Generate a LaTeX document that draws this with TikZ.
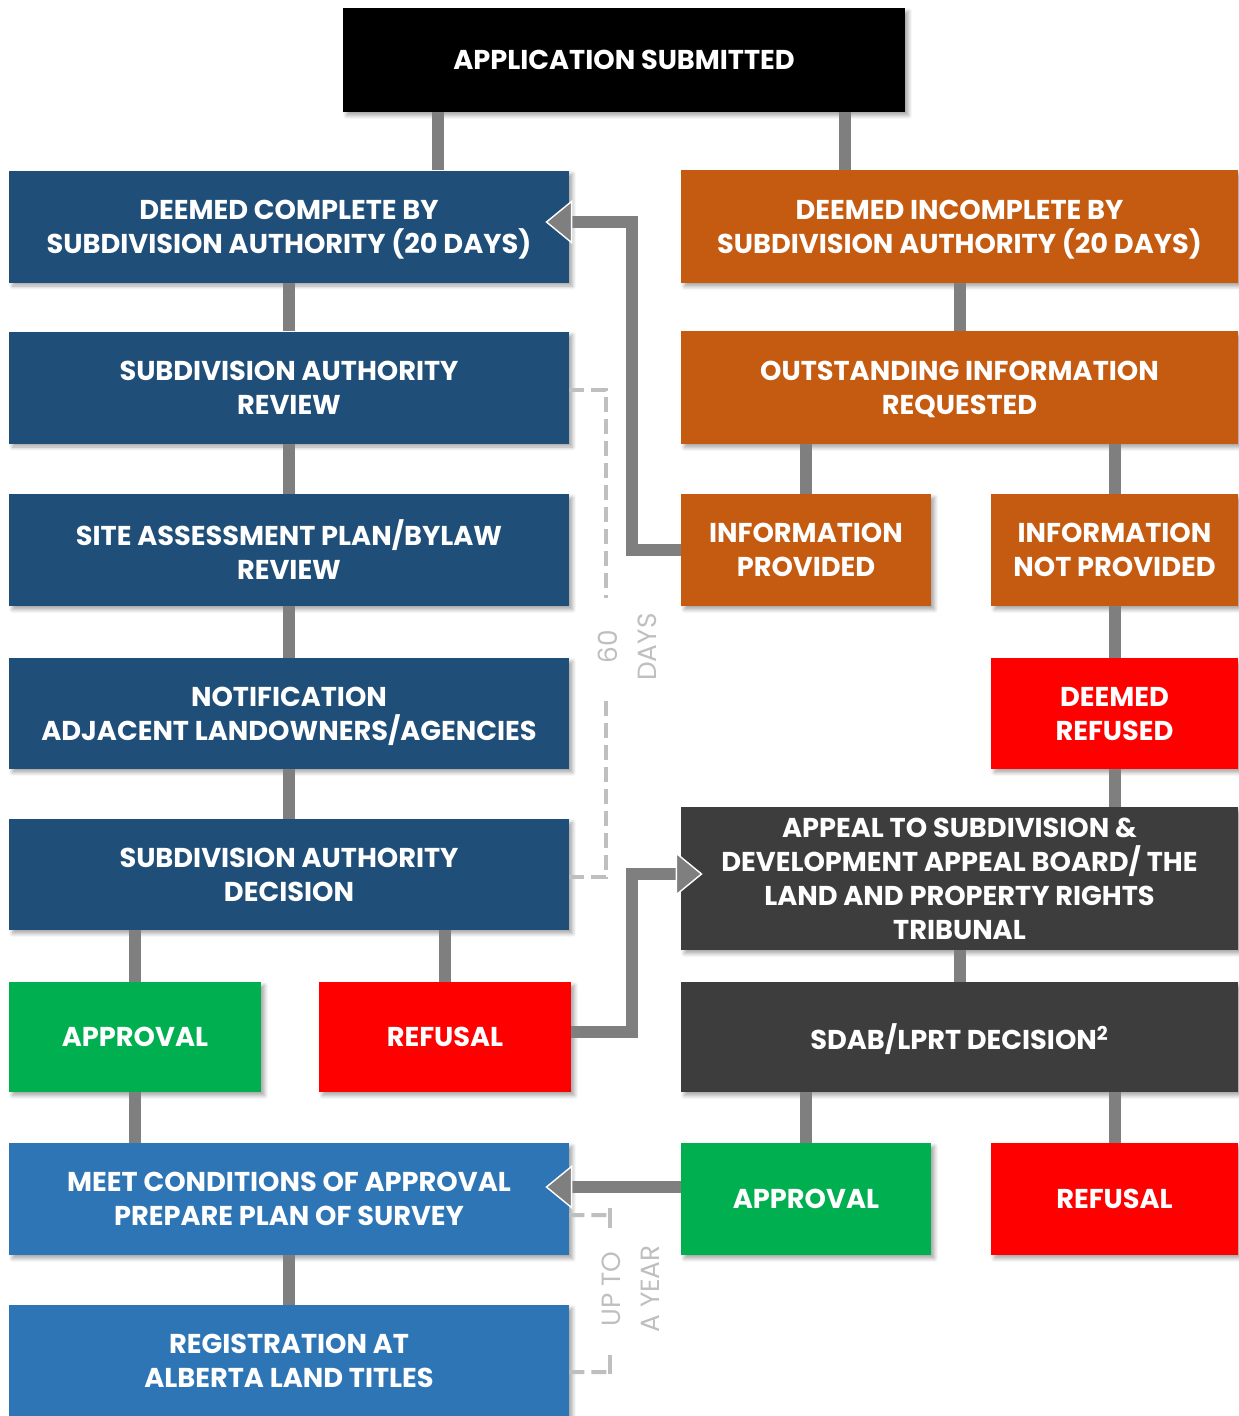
\documentclass[tikz,border=0pt]{standalone}
\usepackage{fontspec}
\setmainfont{Poppins}
\usetikzlibrary{arrows.meta,shadows.blur}
\definecolor{navy}{HTML}{1F4E79}
\definecolor{skyblue}{HTML}{2E75B6}
\definecolor{rust}{HTML}{C55A11}
\definecolor{leaf}{HTML}{00B050}
\definecolor{alarm}{HTML}{FF0000}
\definecolor{slate}{HTML}{3D3D3D}
\definecolor{linkgray}{HTML}{7F7F7F}
\definecolor{dashgray}{HTML}{BFBFBF}
\begin{document}
\begin{tikzpicture}[x=0.2mm,y=-0.2mm,
    box/.style={text=white,font=\bfseries\fontsize{15.5}{19.3}\selectfont,align=center,inner sep=0pt,text depth=0pt,
      blur shadow={shadow xshift=0.7mm,shadow yshift=-0.7mm,shadow opacity=35,shadow blur steps=6}},
    wide/.style={box,minimum width=112mm,minimum height=22.4mm},
    narrow/.style={box,minimum width=50mm,minimum height=22.4mm},
    link/.style={draw=linkgray,line width=2.4mm},
    tip/.style={-{Triangle[length=5.4mm,width=8.8mm,fill=linkgray,color=white,line width=0.8pt]}},
    bracket/.style={draw=dashgray,line width=0.8mm,dash pattern=on 3mm off 1.4mm},
    bracketend/.style={draw=dashgray,line width=0.8mm},
    note/.style={text=dashgray,font=\fontsize{15}{7.8mm}\selectfont,align=center,rotate=90}]
  \useasboundingbox (0,0) rectangle (1238,1416);
  \node[box,fill=black,minimum width=112.4mm,minimum height=20.8mm] (top) at (624,60) {APPLICATION SUBMITTED};
  \node[wide,fill=navy] (L1) at (289,226.5) {DEEMED COMPLETE BY\\SUBDIVISION AUTHORITY (20 DAYS)};
  \node[wide,fill=navy] (L2) at (289,387.5) {SUBDIVISION AUTHORITY\\REVIEW};
  \node[wide,fill=navy] (L3) at (289,550) {SITE ASSESSMENT PLAN/BYLAW\\REVIEW};
  \node[wide,fill=navy,minimum height=22.2mm] (L4) at (289,713.5) {NOTIFICATION\\ADJACENT LANDOWNERS/AGENCIES};
  \node[wide,fill=navy,minimum height=22.2mm] (L5) at (289,874.5) {SUBDIVISION AUTHORITY\\DECISION};
  \node[narrow,fill=leaf,minimum width=50.4mm,minimum height=22mm] (appL) at (135,1037) {APPROVAL};
  \node[narrow,fill=alarm,minimum width=50.4mm,minimum height=22mm] (refL) at (445,1037) {REFUSAL};
  \node[wide,fill=skyblue] (meet) at (289,1199) {MEET CONDITIONS OF APPROVAL\\PREPARE PLAN OF SURVEY};
  \node[wide,fill=skyblue] (reg) at (289,1361) {REGISTRATION AT\\ALBERTA LAND TITLES};
  \node[wide,fill=rust,minimum width=111.4mm,minimum height=22.6mm] (R1) at (959.5,226.5) {DEEMED INCOMPLETE BY\\SUBDIVISION AUTHORITY (20 DAYS)};
  \node[wide,fill=rust,minimum width=111.4mm,minimum height=22.6mm] (R2) at (959.5,387.5) {OUTSTANDING INFORMATION\\REQUESTED};
  \node[narrow,fill=rust] (infoP) at (806,550) {INFORMATION\\PROVIDED};
  \node[narrow,fill=rust,minimum width=49.4mm] (infoN) at (1114.5,550) {INFORMATION\\NOT PROVIDED};
  \node[narrow,fill=alarm,minimum width=49.4mm,minimum height=22.2mm] (deemedR) at (1114.5,713.5) {DEEMED\\REFUSED};
  \node[wide,fill=slate,minimum width=111.4mm,minimum height=28.6mm] (appeal) at (959.5,878.5) {APPEAL TO SUBDIVISION \&\\DEVELOPMENT APPEAL BOARD/ THE\\LAND AND PROPERTY RIGHTS\\TRIBUNAL};
  \node[wide,fill=slate,minimum width=111.4mm,minimum height=22mm] (sdab) at (959.5,1037) {SDAB/LPRT DECISION\textsuperscript{2}};
  \node[narrow,fill=leaf] (appR) at (806,1199) {APPROVAL};
  \node[narrow,fill=alarm,minimum width=49.4mm] (refR) at (1114.5,1199) {REFUSAL};
  \node[note] (days) at (627,647) {60\\DAYS};
  \node[note] (year) at (631,1289) {UP TO\\A YEAR};
  \coordinate (c1) at (438,0);
  \coordinate (c2) at (845,0);
  \coordinate (e1) at (632,0);
  \coordinate (d1) at (606,598);
  \coordinate (d2) at (606,698);
  \coordinate (y1) at (610,1215);
  \coordinate (y2) at (610,1372);
  \begin{scope}[link]
    \draw (top.south -| c1) to (L1.north -| c1);
    \draw (top.south -| c2) to (R1.north -| c2);
    \draw (L1.south) to (L2.north);
    \draw (L2.south) to (L3.north);
    \draw (L3.south) to (L4.north);
    \draw (L4.south) to (L5.north);
    \draw (L5.south -| appL.north) to (appL.north);
    \draw (L5.south -| refL.north) to (refL.north);
    \draw (appL.south) to (meet.north -| appL.south);
    \draw (meet.south) to (reg.north);
    \draw (R1.south) to (R2.north);
    \draw (R2.south -| infoP.north) to (infoP.north);
    \draw (R2.south -| infoN.north) to (infoN.north);
    \draw (infoN.south) to (deemedR.north);
    \draw (deemedR.south) to (appeal.north -| deemedR.south);
    \draw (appeal.south) to (sdab.north);
    \draw (sdab.south -| appR.north) to (appR.north);
    \draw (sdab.south -| refR.north) to (refR.north);
    \draw[tip] (infoP.west) -- (infoP.west -| e1) |- ([xshift=-4.8mm,yshift=0.9mm]L1.east);
    \draw[tip] ([yshift=1mm]refL.east) -- ([yshift=1mm]refL.east -| e1) |- ([xshift=4.4mm,yshift=0.9mm]appeal.west);
    \draw[tip] ([yshift=2.4mm]appR.west) -- ([xshift=-4.8mm,yshift=2.4mm]meet.east);
  \end{scope}
  \draw[bracket] ([yshift=-0.5mm]L2.east) -| (d1);
  \draw[bracket] ([yshift=-0.5mm]L5.east) -| (d2);
  \draw[bracket] ([yshift=-3.2mm]meet.east) -- (y1);
  \draw[bracketend] ([yshift=1.4mm]y1) -- ([yshift=-2.6mm]y1);
  \draw[bracket] ([yshift=-2.2mm]reg.east) -- (y2);
  \draw[bracketend] ([yshift=-0.4mm]y2) -- ([yshift=3.4mm]y2);
\end{tikzpicture}
\end{document}
